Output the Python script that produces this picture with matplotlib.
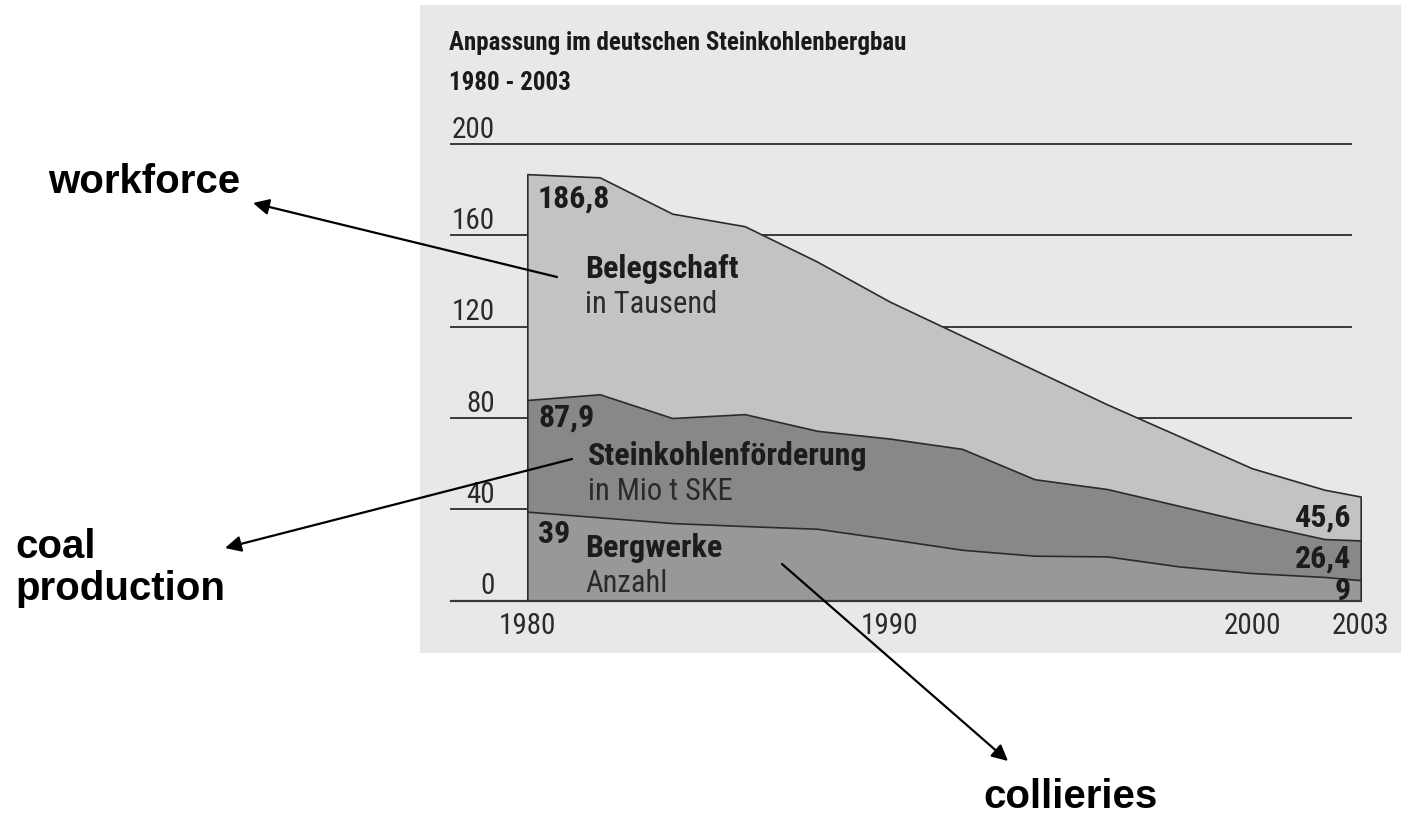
import matplotlib
matplotlib.use('Agg')
import matplotlib.pyplot as plt
from matplotlib.patches import Rectangle, FancyArrowPatch
from matplotlib import font_manager

# data (values on a common 0-200 scale)
years = [1980, 1982, 1984, 1986, 1988, 1990, 1992, 1994, 1996, 1998, 2000, 2002, 2003]
workforce = [186.8, 185.4, 169.5, 164.0, 148.5, 131.0, 116.0, 101.0, 86.0, 72.0, 58.0, 48.6, 45.6]
coal = [87.9, 90.4, 80.0, 81.7, 74.4, 71.0, 66.5, 53.2, 48.9, 41.5, 34.0, 27.0, 26.4]
collieries = [39, 36.5, 34.0, 32.7, 31.5, 27.0, 22.3, 19.7, 19.4, 15.0, 12.1, 10.4, 9]

y_ticks = [0, 40, 80, 120, 160, 200]
x_ticks = [1980, 1990, 2000, 2003]

title = 'Anpassung im deutschen Steinkohlenbergbau'
subtitle = '1980 - 2003'

W, H = 1401, 818

# a condensed face if one is around, else plain Liberation Sans set smaller
have = {f.name for f in font_manager.fontManager.ttflist}
NARROW, k = ['Liberation Sans', 'DejaVu Sans'], 0.82
for cand in ['Roboto Condensed', 'Archivo Narrow', 'Liberation Sans Narrow', 'Barlow Condensed']:
    if cand in have:
        NARROW, k = [cand, 'DejaVu Sans'], 1.0
        break
ARIAL = ['Liberation Sans', 'DejaVu Sans']

BG = '#e8e8e8'
C_WORK = '#c3c3c3'
C_COAL = '#888888'
C_MINES = '#989898'
EDGE = '#2b2b2b'


def fx(px):
    return px / W


def fy(py):
    return 1 - py / H


fig = plt.figure(figsize=(W / 100, H / 100), dpi=100)
fig.patch.set_facecolor('white')

# grey panel behind the original chart
fig.add_artist(Rectangle((fx(420), fy(653)), fx(1401) - fx(420), fy(5) - fy(653),
                         transform=fig.transFigure, facecolor=BG, edgecolor='none', zorder=0))

ax = fig.add_axes([527.3 / W, (H - 600.7) / H, 833.4 / W, 456.7 / H])
ax.set_facecolor('none')
ax.set_xlim(1980, 2003)
ax.set_ylim(0, 200)
for s in ax.spines.values():
    s.set_visible(False)

tick_font = dict(fontsize=21 * k, family=NARROW, color='#2a2a2a')

# horizontal rules (they sit behind the areas)
for v in y_ticks:
    if v > 0:
        ax.plot([1977.9, 2002.73], [v, v], color='#3a3a3a', lw=1.4, clip_on=False, zorder=1)
    ax.annotate(str(v), xy=(1979.1, v), xytext=(0, 4.5), textcoords='offset points',
                ha='right', va='baseline', annotation_clip=False, **tick_font)

ax.fill_between(years, 0, workforce, facecolor=C_WORK, edgecolor=EDGE, lw=1.2, zorder=2)
ax.fill_between(years, 0, coal, facecolor=C_COAL, edgecolor=EDGE, lw=1.2, zorder=3)
ax.fill_between(years, 0, collieries, facecolor=C_MINES, edgecolor=EDGE, lw=1.2, zorder=4)
ax.plot([1977.9, 2003], [0, 0], color='#3a3a3a', lw=1.6, clip_on=False, zorder=5)

ax.set_yticks([])
ax.set_xticks(x_ticks)
ax.set_xticklabels([str(x) for x in x_ticks], **tick_font)
ax.tick_params(axis='x', length=0, pad=8)

# titles
head = dict(fontsize=18 * k, weight='bold', family=NARROW, color='#1a1a1a', va='baseline')
fig.text(fx(449), fy(50), title, **head)
fig.text(fx(449), fy(90), subtitle, **head)


def val(v):
    return ('%g' % v).replace('.', ',')


# labels inside the chart
bold = dict(fontsize=23 * k, weight='bold', family=NARROW, color='#1c1c1c', va='baseline')
reg = dict(fontsize=22 * k, family=NARROW, color='#2a2a2a', va='baseline')
fig.text(fx(538), fy(208), val(workforce[0]), **bold)
fig.text(fx(585), fy(278), 'Belegschaft', **bold)
fig.text(fx(585), fy(313), 'in Tausend', **reg)
fig.text(fx(538), fy(427), val(coal[0]), **bold)
fig.text(fx(588), fy(465), 'Steinkohlenförderung', **bold)
fig.text(fx(588), fy(500), 'in Mio t SKE', **reg)
fig.text(fx(538), fy(543), val(collieries[0]), **bold)
fig.text(fx(585), fy(557), 'Bergwerke', **bold)
fig.text(fx(585), fy(592), 'Anzahl', **reg)
fig.text(fx(1351), fy(527), val(workforce[-1]), ha='right', **bold)
fig.text(fx(1351), fy(568), val(coal[-1]), ha='right', **bold)
fig.text(fx(1351), fy(600), val(collieries[-1]), ha='right', **bold)

# english annotations with arrows
big = dict(fontsize=29, weight='bold', family=ARIAL, color='black', va='baseline')
fig.text(fx(48), fy(193), 'workforce', **big)
fig.text(fx(15), fy(558), 'coal', **big)
fig.text(fx(15), fy(600), 'production', **big)
fig.text(fx(983), fy(808), 'collieries', **big)

arrow = dict(arrowstyle='-|>', mutation_scale=24, lw=1.6, color='black',
             shrinkA=0, shrinkB=0)
for tail, tip in [((557, 277), (253, 203)),
                  ((572, 459), (225, 548)),
                  ((782, 564), (1008, 761))]:
    fig.add_artist(FancyArrowPatch((fx(tail[0]), fy(tail[1])), (fx(tip[0]), fy(tip[1])),
                                   transform=fig.transFigure, zorder=10, **arrow))

fig.savefig('out.png', dpi=100)
